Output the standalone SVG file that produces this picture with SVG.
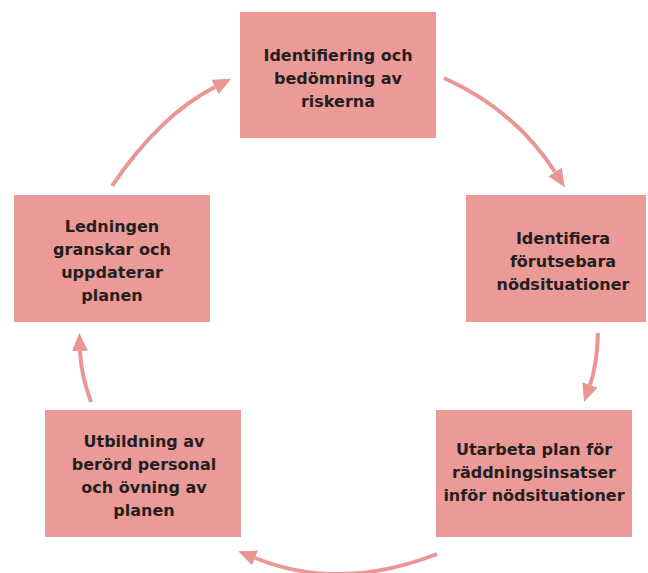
<svg xmlns="http://www.w3.org/2000/svg" width="648" height="573" viewBox="0 0 648 573">
<style>
.box{fill:#EB9A98;}
.lbl{font-family:"DejaVu Sans","Liberation Sans",sans-serif;font-weight:bold;font-size:16px;fill:#231F20;text-anchor:middle;}
.arr{fill:none;stroke:#EA9694;stroke-width:4;marker-end:url(#ah);}
</style>
<defs>
<marker id="ah" markerUnits="userSpaceOnUse" markerWidth="18" markerHeight="16" viewBox="0 0 18 16" refX="0" refY="8" orient="auto">
<path d="M0,0 L18,8 L0,16 z" fill="#EA9694"/>
</marker>
</defs>
<rect width="648" height="573" fill="#ffffff"/>
<g id="connectors">
<path class="arr" d="M444,78 Q515,110 555,172"/>
<path class="arr" d="M598,333 Q597,365 590,385"/>
<path class="arr" d="M437,554 Q340,592 255,558"/>
<path class="arr" d="M91,402 Q81,375 80,351"/>
<path class="arr" d="M112,186 Q160,115 215,87"/>
</g>
<g id="node1">
<rect class="box" x="240" y="12" width="196" height="126"/>
<text class="lbl"><tspan x="338" y="61">Identifiering och</tspan><tspan x="338" y="84">bedömning av</tspan><tspan x="338" y="107">riskerna</tspan></text>
</g>
<g id="node2">
<rect class="box" x="466" y="195" width="180" height="127"/>
<text class="lbl"><tspan x="563" y="244">Identifiera</tspan><tspan x="563" y="267">förutsebara</tspan><tspan x="563" y="290">nödsituationer</tspan></text>
</g>
<g id="node3">
<rect class="box" x="436" y="410" width="196" height="127"/>
<text class="lbl"><tspan x="534" y="455">Utarbeta plan för</tspan><tspan x="534" y="478">räddningsinsatser</tspan><tspan x="534" y="501">inför nödsituationer</tspan></text>
</g>
<g id="node4">
<rect class="box" x="45" y="410" width="196" height="127"/>
<text class="lbl"><tspan x="144" y="447">Utbildning av</tspan><tspan x="144" y="470">berörd personal</tspan><tspan x="144" y="493">och övning av</tspan><tspan x="144" y="516">planen</tspan></text>
</g>
<g id="node5">
<rect class="box" x="14" y="195" width="196" height="127"/>
<text class="lbl"><tspan x="112" y="232">Ledningen</tspan><tspan x="112" y="255">granskar och</tspan><tspan x="112" y="278">uppdaterar</tspan><tspan x="112" y="301">planen</tspan></text>
</g>
</svg>
